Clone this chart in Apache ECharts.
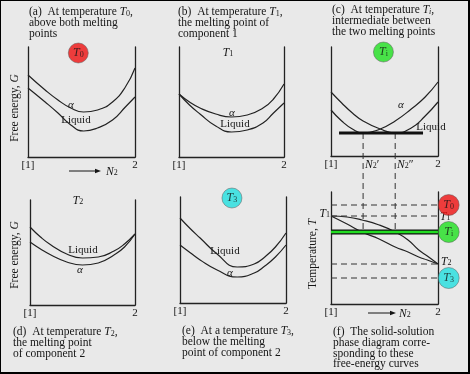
<!DOCTYPE html>
<html>
<head>
<meta charset="utf-8">
<script src="https://cdn.jsdelivr.net/npm/echarts@6/dist/echarts.min.js"></script>
<style>
html,body{margin:0;padding:0;background:#e9e9e9;}
#c{width:470px;height:374px;}
</style>
</head>
<body>
<div id="c"></div>
<script>
// ---------------- DATA ----------------
// (a) T0: free energy G vs N2
const N2_a       = [0, 0.16, 0.28, 0.4, 0.52, 0.65, 0.79, 0.91, 1];
const G_alpha_a  = [82, 67, 57, 49, 45, 47, 55, 70, 89];
const G_liquid_a = [69, 55, 44, 32, 26, 29, 37, 50, 60];
// (b) T1
const N2_b       = [0, 0.1, 0.2, 0.35, 0.5, 0.65, 0.8, 0.9, 1];
const G_alpha_b  = [63, 55, 49, 43, 40, 42, 49, 58, 73];
const G_liquid_b = [63, 52, 43, 31, 25, 27, 34, 44, 54];
// (c) Ti
const N2_c       = [0, 0.1, 0.2, 0.3, 0.46, 0.6, 0.75, 0.88, 1];
const G_alpha_c  = [46, 35, 27, 23, 27, 35, 47, 59, 74];
const G_liquid_c = [64, 53, 43, 35, 27, 23, 28, 40, 54];
const tangentN2  = [0.075, 0.86];
const tangentG   = 23;
const tieN2      = [0.30, 0.60];          // N2', N2''
// (d) T2
const N2_d       = [0, 0.1, 0.2, 0.35, 0.5, 0.65, 0.8, 0.9, 1];
const G_liquid_d = [78, 68, 60, 51, 47, 48, 54, 61, 71];
const G_alpha_d  = [63, 56, 50, 43, 40, 42, 50, 58, 71];
// (e) T3
const N2_e       = [0, 0.1, 0.19, 0.35, 0.54, 0.7, 0.8, 0.9, 1];
const G_liquid_e = [85, 74, 65, 49, 36, 39, 46, 56, 70];
const G_alpha_e  = [58, 50, 43, 33, 26, 30, 37, 46, 58];
// (f) phase diagram
const N2_f       = [0, 0.15, 0.29, 0.45, 0.6, 0.72, 0.82, 0.9, 1];
const T_liquidus = [88, 87, 84, 79, 72, 64, 54, 48, 40];
const T_solidus  = [88, 80, 72, 65, 57, 52, 47, 44, 40];
const tempNames  = ['0', '1', 'i', '2', '3'];
const tempValues = [99, 88, 72, 40, 26];
const xTickLabels = ['[1]', '2'];

// ---------------- LAYOUT & STYLE ----------------
const FONT = '"Liberation Serif", "DejaVu Serif", serif';
const INK = '#151515';
const LINE = '#222';
const T = n => tempValues[tempNames.indexOf(n)];

const grids = [
  {left: 28,  top: 47,  width: 107, height: 110},
  {left: 179, top: 47,  width: 105, height: 110},
  {left: 331, top: 47,  width: 107, height: 109},
  {left: 30,  top: 200, width: 105, height: 105},
  {left: 180, top: 197, width: 106, height: 106},
  {left: 331, top: 192, width: 107, height: 112},
  {left: 331, top: 133, width: 107, height: 99}   // link between (c) and (f)
];
const yMax = [110, 110, 109, 105, 106, 112, 1];

const axLine = {show: true, onZero: false, lineStyle: {color: LINE, width: 1.3}};
const xAxes = [], yAxes = [];
grids.forEach((g, k) => {
  const vis = k < 6;
  xAxes.push({gridIndex: k, type: 'value', min: 0, max: 1, interval: 1, show: vis,
    axisLine: axLine, axisTick: {show: false}, splitLine: {show: false},
    axisLabel: {show: vis, margin: 3, color: INK, fontFamily: FONT, fontSize: 11,
      formatter: v => v === 0 ? xTickLabels[0] : (v === 1 ? xTickLabels[1] : '')}});
  ['left', 'right'].forEach(pos => yAxes.push({gridIndex: k, type: 'value', min: 0, max: yMax[k],
    position: pos, show: vis, axisLine: axLine, axisTick: {show: false},
    axisLabel: {show: false}, splitLine: {show: false}}));
});

function curve(k, xs, ys, extra) {
  return Object.assign({type: 'line', xAxisIndex: k, yAxisIndex: 2 * k,
    data: xs.map((x, i) => [x, ys[i]]), smooth: true, symbol: 'none', silent: true, z: 3,
    lineStyle: {color: LINE, width: 1.2}}, extra || {});
}
function seg(k, pts, style, extra) {
  return Object.assign({type: 'line', xAxisIndex: k, yAxisIndex: 2 * k, data: pts,
    symbol: 'none', silent: true, z: 3, lineStyle: style}, extra || {});
}
const dashed = {color: '#333', width: 1, type: [6, 4]};
const badgeColor = {'0': '#ee1010', 'i': '#1fe01f', '3': '#20dede'};
const labelRich = {
  i: {fontFamily: FONT, fontStyle: 'italic', fontSize: 12, color: INK, lineHeight: 12},
  s: {fontFamily: FONT, fontSize: 8, color: INK, lineHeight: 5, verticalAlign: 'bottom'}
};
function badges(k, pts, size) {
  return {type: 'scatter', xAxisIndex: k, yAxisIndex: 2 * k, clip: false, symbolSize: size,
    silent: true, z: 6,
    data: pts.map(p => ({value: [p[0], p[1]], name: p[2],
      itemStyle: {color: badgeColor[p[2]], borderColor: '#555', borderWidth: 0.6}})),
    label: {show: true, position: 'inside', formatter: p => '{i|T}{s|' + p.name + '}', rich: labelRich}};
}

const series = [
  curve(0, N2_a, G_alpha_a), curve(0, N2_a, G_liquid_a),
  badges(0, [[0.47, 104, '0']], 20),
  curve(1, N2_b, G_alpha_b), curve(1, N2_b, G_liquid_b),
  curve(2, N2_c, G_alpha_c), curve(2, N2_c, G_liquid_c),
  seg(2, tangentN2.map(x => [x, tangentG]), {color: '#111', width: 3}, {z: 4}),
  badges(2, [[0.49, 104, 'i']], 20),
  curve(3, N2_d, G_liquid_d), curve(3, N2_d, G_alpha_d),
  curve(4, N2_e, G_liquid_e), curve(4, N2_e, G_alpha_e),
  badges(4, [[0.49, 105, '3']], 20),
  curve(5, N2_f, T_liquidus), curve(5, N2_f, T_solidus),
  ...['0', '1', '2', '3'].map(n => seg(5, [[0, T(n)], [1, T(n)]], dashed)),
  seg(5, [[0, T('i')], [1, T('i')]], {color: '#111', width: 5}, {z: 4}),
  seg(5, [[0, T('i')], [1, T('i')]], {color: '#22dd22', width: 2.4}, {z: 5}),
  badges(5, ['0', 'i', '3'].map(n => [1.1, T(n), n]), 21),
  ...tieN2.map(x => seg(6, [[x, 1], [x, 0]], dashed))
];

// ---------------- TEXT ----------------
const RICH = {
  n:  {fontFamily: FONT, fontSize: 11.5, fill: INK, lineHeight: 10.7},
  i:  {fontFamily: FONT, fontSize: 11.5, fontStyle: 'italic', fill: INK, lineHeight: 10.7},
  s:  {fontFamily: FONT, fontSize: 8, fill: INK, lineHeight: 5, verticalAlign: 'bottom'},
  si: {fontFamily: FONT, fontSize: 8, fontStyle: 'italic', fill: INK, lineHeight: 5, verticalAlign: 'bottom'},
  l:  {fontFamily: FONT, fontSize: 11, fill: INK, lineHeight: 11},
  a:  {fontFamily: FONT, fontSize: 11, fontStyle: 'italic', fill: INK, lineHeight: 11}
};
const Tt = (sub, style) => '{i|T}{' + (style || 's') + '|' + sub + '}';
function txt(x, y, text, align, vAlign, rot) {
  const el = {type: 'text', x: x, y: y, z: 1, silent: true,
    style: {text: text, rich: RICH, fill: INK, align: align || 'left', verticalAlign: vAlign || 'top'}};
  if (rot) el.rotation = rot;
  return el;
}
function arrow(x1, x2, y) {
  return [
    {type: 'line', z: 1, silent: true, shape: {x1: x1, y1: y, x2: x2 - 3, y2: y}, style: {stroke: INK, lineWidth: 1}},
    {type: 'polygon', z: 1, silent: true, shape: {points: [[x2, y], [x2 - 6, y - 2.2], [x2 - 6, y + 2.2]]}, style: {fill: INK}}
  ];
}

const graphic = [
  txt(29, 7, '{n|(a)  At temperature }' + Tt('0') + '{n|,}\n{n|above both melting}\n{n|points}'),
  txt(178, 7, '{n|(b)  At temperature }' + Tt('1') + '{n|,}\n{n|the melting point of}\n{n|component 1}'),
  txt(332, 5, '{n|(c)  At temperature }' + Tt('i', 'si') + '{n|,}\n{n|intermediate between}\n{n|the two melting points}'),
  txt(13, 327, '{n|(d)  At temperature }' + Tt('2') + '{n|,}\n{n|the melting point}\n{n|of component 2}'),
  txt(182, 326, '{n|(e)  At a temperature }' + Tt('3') + '{n|,}\n{n|below the melting}\n{n|point of component 2}'),
  txt(333, 327, '{n|(f)  The solid-solution}\n{n|phase diagram corre-}\n{n|sponding to these}\n{n|free-energy curves}'),
  txt(15, 108, '{n|Free energy, }{i|G}', 'center', 'middle', Math.PI / 2),
  txt(15, 255, '{n|Free energy, }{i|G}', 'center', 'middle', Math.PI / 2),
  txt(313, 254, '{n|Temperature, }{i|T}', 'center', 'middle', Math.PI / 2),
  // curve labels
  txt(71, 105, '{a|α}', 'center', 'middle'),
  txt(76, 120, '{l|Liquid}', 'center', 'middle'),
  txt(232, 113, '{a|α}', 'center', 'middle'),
  txt(235, 124, '{l|Liquid}', 'center', 'middle'),
  txt(401, 105, '{a|α}', 'center', 'middle'),
  txt(431, 127, '{l|Liquid}', 'center', 'middle'),
  txt(83, 250, '{l|Liquid}', 'center', 'middle'),
  txt(80, 270, '{a|α}', 'center', 'middle'),
  txt(225, 251, '{l|Liquid}', 'center', 'middle'),
  txt(230, 273, '{a|α}', 'center', 'middle'),
  // temperature labels
  txt(228, 53, Tt('1'), 'center', 'middle'),
  txt(78, 201, Tt('2'), 'center', 'middle'),
  txt(330, 214, Tt('1'), 'right', 'middle'),
  txt(440, 217, Tt('1'), 'left', 'middle'),
  txt(441, 262, Tt('2'), 'left', 'middle'),
  // tie-line composition labels
  txt(365, 165, '{i|N}{s|2}{n|′}', 'left', 'middle'),
  txt(397, 165, '{i|N}{s|2}{n|″}', 'left', 'middle'),
  // N2 axis arrows
  ...arrow(69, 101, 171),
  txt(106, 172, '{i|N}{s|2}', 'left', 'middle'),
  ...arrow(368, 396, 313),
  txt(399, 314, '{i|N}{s|2}', 'left', 'middle'),
  // frame
  {type: 'rect', z: 100, silent: true, shape: {x: 0, y: 0, width: 469, height: 373},
    style: {fill: 'none', stroke: '#000', lineWidth: 2}}
];

const chart = echarts.init(document.getElementById('c'), null, {renderer: 'canvas'});
chart.setOption({
  backgroundColor: '#e9e9e9',
  animation: false,
  grid: grids.map(g => Object.assign({containLabel: false, outerBoundsMode: 'none'}, g)),
  xAxis: xAxes,
  yAxis: yAxes,
  series: series,
  graphic: graphic
});
</script>
</body>
</html>
